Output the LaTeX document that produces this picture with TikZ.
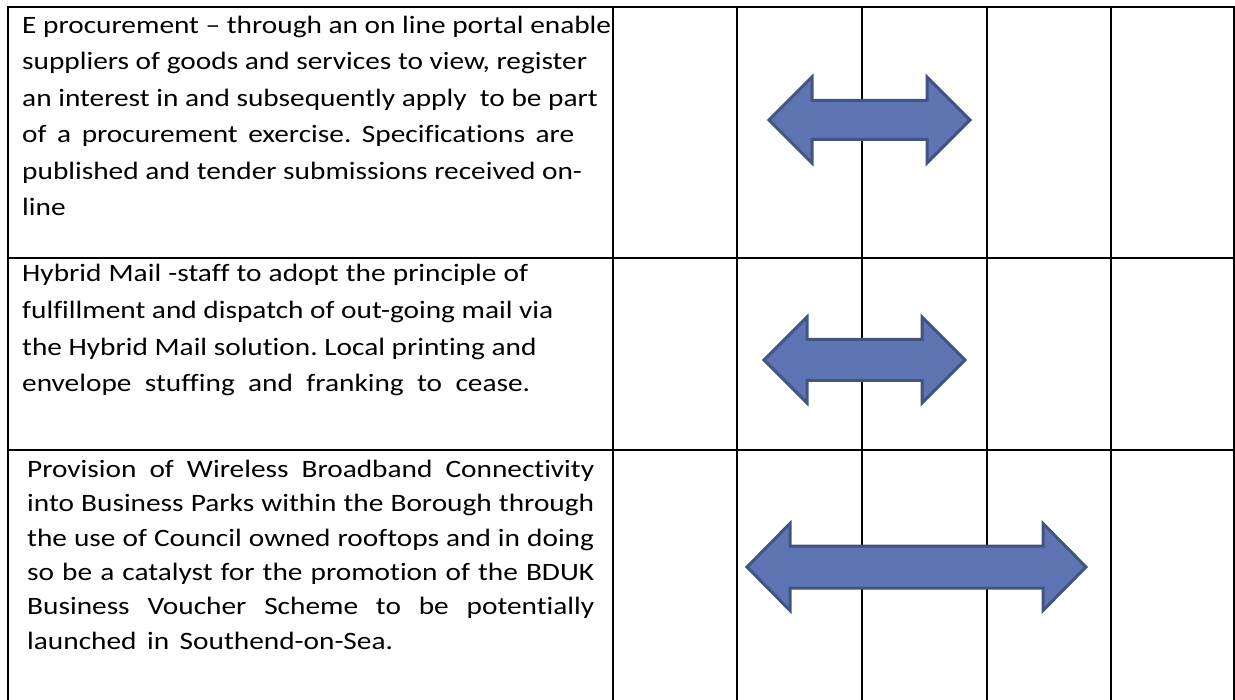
\documentclass[tikz,border=0pt]{standalone}
\usepackage{tikz}
\usepackage{fontspec}
\newfontfamily\measfont{Carlito}
\newsavebox\measbox
\newlength\measlen
\sbox\measbox{\measfont\fontsize{25pt}{30pt}\selectfont E procurement – through an on line portal enable}
\setlength\measlen{\wd\measbox}
\pgfmathsetmacro\stretchfac{589/\measlen}
\setmainfont{Carlito}[FakeStretch=\stretchfac, Ligatures=NoCommon]
\definecolor{arrowfill}{RGB}{95,117,179}
\definecolor{arrowline}{RGB}{66,84,130}
\tikzset{
  grid/.style={line width=2pt, black},
  cell/.style={inner sep=0pt, anchor=base west, font=\fontsize{25pt}{30pt}\selectfont\frenchspacing},
  dblarrow/.style={fill=arrowfill, draw=arrowline, line width=3pt, line join=miter}
}
\newcommand{\dblarrowat}[6]{% left tip x, right tip x, y, head length, head half height, shaft half height
  \draw[dblarrow] (#1,#3) -- (#1+#4,#3-#5) -- (#1+#4,#3-#6) -- (#2-#4,#3-#6) -- (#2-#4,#3-#5)
    -- (#2,#3) -- (#2-#4,#3+#5) -- (#2-#4,#3+#6) -- (#1+#4,#3+#6) -- (#1+#4,#3+#5) -- cycle;}
\begin{document}
\begin{tikzpicture}[x=1pt,y=-1pt]
\useasboundingbox (0,0) rectangle (1235,700);
% table grid (the bottom edge lies outside the picture)
\draw[grid] (8,701) -- (8,7) -- (1234,7) -- (1234,701);
\draw[grid] (8,258) -- (1234,258);
\draw[grid] (8,450) -- (1234,450);
\foreach \cx in {613,737,862,987,1111} {\draw[grid] (\cx,7) -- (\cx,701);}
% texts
\node[cell] (t1) at (22,33.3) {\vtop{\baselineskip=36.5pt
  \hbox{E procurement – through an on line portal enable}
  \hbox{suppliers of goods and services to view, register}
  \hbox{an interest in and subsequently apply~ to be part}
  \hbox to 552pt{of a procurement exercise. Specifications are}
  \hbox{published and tender submissions received on-}
  \hbox{line}}};
\node[cell] (t2) at (22,281.7) {\vtop{\baselineskip=36.7pt
  \hbox to 506pt{Hybrid Mail -staff to adopt the principle of}
  \hbox{fulfillment and dispatch of out-going mail via}
  \hbox{the Hybrid Mail solution. Local printing and}
  \hbox to 508pt{envelope stuffing and franking to cease.}}};
\node[cell] (t3) at (27,477.3) {\vtop{\baselineskip=34.4pt
  \hbox to 567pt{Provision of Wireless Broadband Connectivity}
  \hbox to 567pt{into Business Parks within the Borough through}
  \hbox to 567pt{the use of Council owned rooftops and in doing}
  \hbox to 567pt{so be a catalyst for the promotion of the BDUK}
  \hbox to 567pt{Business Voucher Scheme to be potentially}
  \hbox to 366pt{launched in Southend-on-Sea.}}};
% arrows
\dblarrowat{769}{970}{120}{43}{43}{19.5}
\dblarrowat{764}{965}{360}{43}{43}{20.5}
\dblarrowat{747}{1086}{567}{43}{43.5}{21}
\end{tikzpicture}
\end{document}
